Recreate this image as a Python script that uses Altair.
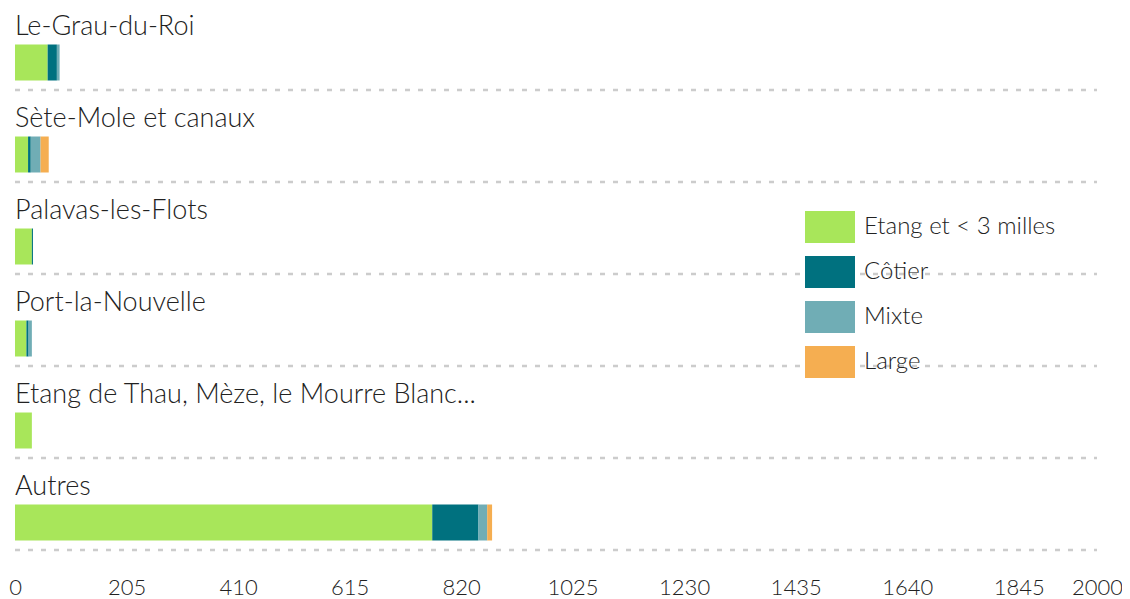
import altair as alt
import pandas as pd

categories = ["Le-Grau-du-Roi", "Sète-Mole et canaux", "Palavas-les-Flots",
              "Port-la-Nouvelle", "Etang de Thau, Mèze, le Mourre Blanc...", "Autres"]
types = ["Etang et < 3 milles", "Côtier", "Mixte", "Large"]
colors = ["#A8E65A", "#00717F", "#70ADB5", "#F5AE51"]

etang = [60, 24, 31, 21, 31, 767]
cotier = [17, 5, 2, 4, 0, 85]
mixte = [5, 18, 0, 6, 0, 16]
large = [0, 15, 0, 0, 0, 9]

tick_values = [0, 205, 410, 615, 820, 1025, 1230, 1435, 1640, 1845, 2000]

rows = []
for i, c in enumerate(categories):
    for j, (t, vals) in enumerate(zip(types, [etang, cotier, mixte, large])):
        rows.append({"cat": c, "type": t, "value": vals[i], "order": j})
df = pd.DataFrame(rows)
labels_df = pd.DataFrame({"cat": categories})

FONT = "Lato"

yscale = alt.Scale(domain=categories, paddingInner=0, paddingOuter=0)

bars = alt.Chart(df).mark_bar(size=36, yOffset=8.5).encode(
    y=alt.Y("cat:N", scale=yscale, axis=None),
    x=alt.X("value:Q", stack="zero",
            scale=alt.Scale(domain=[0, 2000], nice=False),
            axis=alt.Axis(values=tick_values, format="d", domain=False, ticks=False,
                          grid=False, labelFontSize=22, labelFont=FONT, labelFontWeight=300,
                          labelColor="#222", labelPadding=17, title=None,
                          labelOffset={"condition": {"test": "datum.value == 2000", "value": -6},
                                       "value": 0},
                          labelOverlap=False, labelBound=False, labelFlush=False)),
    color=alt.Color("type:N", scale=alt.Scale(domain=types, range=colors),
                    legend=alt.Legend(title=None, orient="none", legendX=799, legendY=203,
                                      symbolType="M-1.5625,-1L1.5625,-1L1.5625,1L-1.5625,1Z",
                                      symbolSize=1024, symbolStrokeWidth=0, symbolOpacity=1,
                                      labelFontSize=24, labelFont=FONT, labelFontWeight=300,
                                      labelColor="#222", labelOffset=18, rowPadding=13,
                                      padding=0, labelLimit=400)),
    order=alt.Order("order:Q"),
)

rules = alt.Chart(labels_df).mark_rule(yOffset=36, strokeDash=[5, 8], color="#cccccc",
                                       strokeWidth=2.5).encode(
    y=alt.Y("cat:N", scale=yscale, axis=None),
    x=alt.value(0), x2=alt.value(1082),
)

texts = alt.Chart(labels_df).mark_text(align="left", baseline="alphabetic", yOffset=-19,
                                       fontSize=27, font=FONT, fontWeight=300,
                                       color="#222").encode(
    y=alt.Y("cat:N", scale=yscale, axis=None),
    x=alt.value(0),
    text="cat:N",
)

chart = alt.layer(rules, bars, texts).properties(
    width=1088, height=552,
    padding={"left": 7, "top": 0, "right": 19, "bottom": 39},
    autosize=alt.AutoSizeParams(type="none"),
    background="white",
).configure_view(stroke=None)

chart.save("out.html", embed_options={"renderer": "svg", "actions": False})
